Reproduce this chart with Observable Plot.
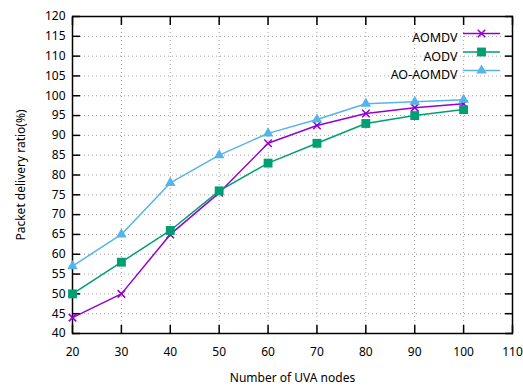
<!DOCTYPE html>
<html>
<head>
<meta charset="utf-8">
<script src="https://cdn.jsdelivr.net/npm/d3@7"></script>
<script src="https://cdn.jsdelivr.net/npm/@observablehq/plot@0.6"></script>
<style>
  html, body { margin: 0; padding: 0; background: #fff; }
  #chart svg { display: block; }
</style>
</head>
<body>
<div id="chart"></div>
<script>
const nodes = [20, 30, 40, 50, 60, 70, 80, 90, 100];
const aomdv = [44, 50, 65, 75.5, 88, 92.5, 95.5, 97, 98];
const aodv = [50, 58, 66, 76, 83, 88, 93, 95, 96.5];
const aoAomdv = [57, 65, 78, 85, 90.5, 94, 98, 98.5, 99];
const seriesNames = ["AOMDV", "AODV", "AO-AOMDV"];
const seriesColors = ["#9400d3", "#009e73", "#56b4e9"];
const seriesSymbols = ["times", "square", "triangle"];
const xTicks = [20, 30, 40, 50, 60, 70, 80, 90, 100, 110];
const yTicks = [40, 45, 50, 55, 60, 65, 70, 75, 80, 85, 90, 95, 100, 105, 110, 115, 120];

const seriesValues = [aomdv, aodv, aoAomdv];
const rows = seriesNames.flatMap((name, i) =>
  nodes.map((n, j) => ({series: name, x: n, y: seriesValues[i][j]})));

const symbolR = {times: 3.5, square: 5.0, triangle: 3.9};

const marks = [
  Plot.gridX(xTicks.slice(1, -1), {stroke: "#a0a0a0", strokeOpacity: 1, strokeWidth: 1, strokeDasharray: "1,3"}),
  Plot.gridY(yTicks.slice(1, -1), {stroke: "#a0a0a0", strokeOpacity: 1, strokeWidth: 1, strokeDasharray: "1,3"}),
  // inward ticks on all sides
  Plot.axisX(xTicks, {anchor: "bottom", tickSize: -8, text: null, label: null, strokeWidth: 1.5}),
  Plot.axisX(xTicks, {anchor: "top", tickSize: -8, text: null, label: null, strokeWidth: 1.5}),
  Plot.axisY(yTicks, {anchor: "left", tickSize: -8, text: null, label: null, strokeWidth: 1.5}),
  Plot.axisY(yTicks, {anchor: "right", tickSize: -8, text: null, label: null, strokeWidth: 1.5}),
  // labels
  Plot.axisX(xTicks, {anchor: "bottom", tickSize: 0, tickPadding: 14, label: "Number of UVA nodes", labelAnchor: "center", labelArrow: "none", labelOffset: 48, fontSize: 12, fill: "#000"}),
  Plot.axisY(yTicks, {anchor: "left", tickSize: 0, tickPadding: 7, label: "Packet delivery ratio(%)", labelAnchor: "center", labelArrow: "none", labelOffset: 56, fontSize: 12, fill: "#000"}),
  Plot.frame({stroke: "#000", strokeWidth: 1.5})
];

seriesNames.forEach((name, i) => {
  const data = rows.filter(d => d.series === name);
  const sym = seriesSymbols[i];
  const dotStyle = {
    symbol: sym,
    r: symbolR[sym],
    fill: sym === "times" ? "none" : seriesColors[i],
    stroke: sym === "times" ? seriesColors[i] : "none",
    strokeWidth: 1.5
  };
  marks.push(Plot.line(data, {x: "x", y: "y", stroke: seriesColors[i], strokeWidth: 1.5}));
  marks.push(Plot.dot(data, {x: "x", y: "y", ...dotStyle}));
  // legend entry
  const dy = 17 + i * 18.5;
  marks.push(Plot.text([name], {text: d => d, frameAnchor: "top-right", dx: -55, dy: dy, textAnchor: "end", fontSize: 12.5, fill: "#000"}));
  marks.push(Plot.vector([name], {frameAnchor: "top-right", dx: -49, dy: dy, rotate: 90, length: 36, anchor: "start", stroke: seriesColors[i], strokeWidth: 1.5, shape: {draw(ctx, l) { ctx.moveTo(0, 0); ctx.lineTo(0, -l); }}}));
  marks.push(Plot.dot([name], {frameAnchor: "top-right", dx: -31, dy: dy, ...dotStyle}));
});

const chart = Plot.plot({
  width: 523,
  height: 387,
  marginLeft: 72,
  marginRight: 11,
  marginTop: 16,
  marginBottom: 54,
  style: {fontFamily: "'Noto Sans', sans-serif", fontSize: "12px", color: "#000", background: "#fff"},
  x: {domain: [20, 110]},
  y: {domain: [40, 120]},
  marks
});
document.getElementById("chart").appendChild(chart);
</script>
</body>
</html>
